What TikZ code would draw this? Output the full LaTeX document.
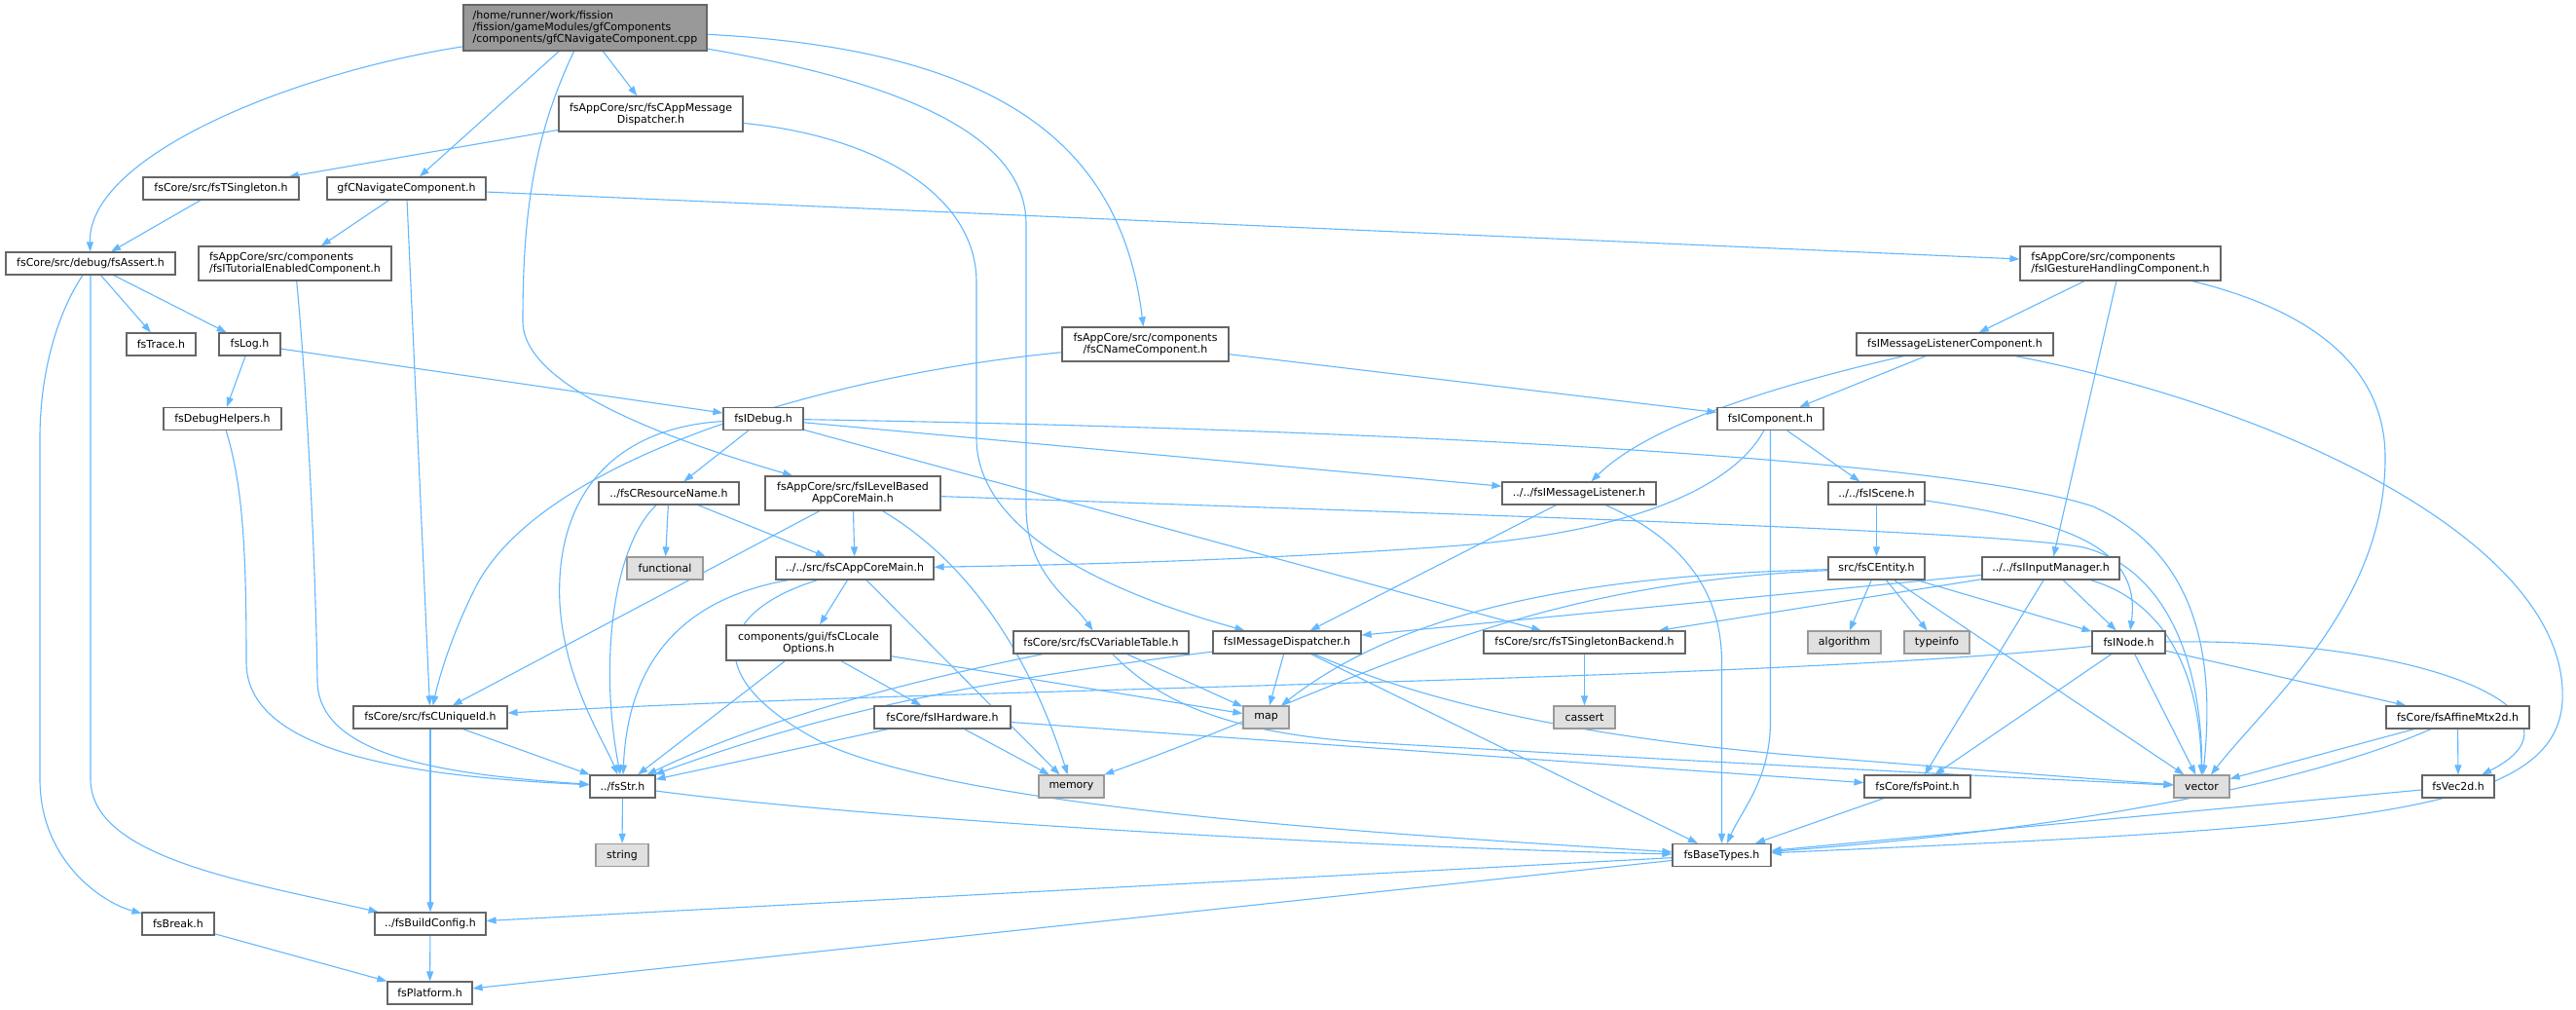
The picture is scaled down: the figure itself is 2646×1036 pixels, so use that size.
\documentclass[tikz,border=0pt]{standalone}
\usepackage{fontspec}
\usetikzlibrary{arrows.meta,backgrounds}
\newfontfamily\dvfont{DejaVu Sans}
\newcommand\nodefont{\dvfont\fontsize{11pt}{12pt}\selectfont}
\definecolor{edgeblue}{HTML}{63B8FF}
\definecolor{ndborder}{HTML}{666666}
\definecolor{extborder}{HTML}{999999}
\definecolor{extfill}{HTML}{E0E0E0}
\definecolor{rootfill}{HTML}{999999}
\tikzset{
  nd/.style={draw=ndborder, fill=white, line width=1.2pt, inner sep=0pt, font=\nodefont, minimum height=23pt, text=black},
  ext/.style={nd, draw=extborder, fill=extfill},
  root/.style={nd, fill=rootfill, draw=ndborder},
  e/.style={draw=edgeblue, line width=1.1pt, -{Triangle[length=10pt,width=7pt]}}
}
\begin{document}
\begin{tikzpicture}[x=1pt,y=-1pt]
\useasboundingbox (0,0) rectangle (2646,1036);
% nodes
\node[root, minimum width=250pt, minimum height=47pt, align=left] (main) at (601,28.5) {/home/runner/work/fission\\/fission/gameModules/gfComponents\\/components/gfCNavigateComponent.cpp};
\node[nd, minimum width=189pt, minimum height=36pt, align=center] (appdisp) at (668.5,117) {fsAppCore/src/fsCAppMessage\\Dispatcher.h};
\node[nd, minimum width=160pt] (tsing) at (227,193.5) {fsCore/src/fsTSingleton.h};
\node[nd, minimum width=163pt] (gfnav) at (417.5,193.5) {gfCNavigateComponent.h};
\node[nd, minimum width=174pt] (fsassert) at (93,270.5) {fsCore/src/debug/fsAssert.h};
\node[nd, minimum width=198pt, minimum height=35pt, align=left] (tutorial) at (303,270.5) {fsAppCore/src/components\\/fsITutorialEnabledComponent.h};
\node[nd, minimum width=206pt, minimum height=35pt, align=left] (gesture) at (2178,270.5) {fsAppCore/src/components\\/fsIGestureHandlingComponent.h};
\node[nd, minimum width=71pt] (trace) at (165.5,353.5) {fsTrace.h};
\node[nd, minimum width=63pt] (fslog) at (256.5,353.5) {fsLog.h};
\node[nd, minimum width=171pt, minimum height=35pt, align=center] (cname) at (1176.5,353.5) {fsAppCore/src/components\\/fsCNameComponent.h};
\node[nd, minimum width=202pt] (mlcomp) at (2008,353.5) {fsIMessageListenerComponent.h};
\node[nd, minimum width=121pt] (dbghelp) at (228.5,430) {fsDebugHelpers.h};
\node[nd, minimum width=82pt] (idebug) at (784,430) {fsIDebug.h};
\node[nd, minimum width=109pt] (icomp) at (1818.5,430) {fsIComponent.h};
\node[nd, minimum width=144pt] (resname) at (687,506.5) {../fsCResourceName.h};
\node[nd, minimum width=180pt, minimum height=35pt, align=center] (levelbased) at (876,506.5) {fsAppCore/src/fsILevelBased\\AppCoreMain.h};
\node[nd, minimum width=158pt] (msglistener) at (1622,506.5) {../../fsIMessageListener.h};
\node[nd, minimum width=99pt] (iscene) at (1927.5,506.5) {../../fsIScene.h};
\node[ext, minimum width=78pt] (functional) at (683,583.5) {functional};
\node[nd, minimum width=162pt] (appcoremain) at (878,583.5) {../../src/fsCAppCoreMain.h};
\node[nd, minimum width=99pt] (centity) at (1927.5,583.5) {src/fsCEntity.h};
\node[nd, minimum width=141pt] (inputmgr) at (2106.5,583.5) {../../fsIInputManager.h};
\node[nd, minimum width=169pt, minimum height=36pt, align=center] (locale) at (830.5,660) {components/gui/fsCLocale\\Options.h};
\node[nd, minimum width=180pt] (vartable) at (1131,659.5) {fsCore/src/fsCVariableTable.h};
\node[nd, minimum width=152pt] (msgdisp) at (1322,659.5) {fsIMessageDispatcher.h};
\node[nd, minimum width=207pt] (tsingback) at (1627.5,659.5) {fsCore/src/fsTSingletonBackend.h};
\node[ext, minimum width=75pt] (algorithm) at (1894.5,659.5) {algorithm};
\node[ext, minimum width=67pt] (typeinfo) at (1989.5,659.5) {typeinfo};
\node[nd, minimum width=75pt] (inode) at (2186.5,659.5) {fsINode.h};
\node[nd, minimum width=158pt] (uniqueid) at (442,736.5) {fsCore/src/fsCUniqueId.h};
\node[nd, minimum width=140pt] (hardware) at (968,736.5) {fsCore/fsIHardware.h};
\node[ext, minimum width=47pt] (map) at (1300.5,736.5) {map};
\node[ext, minimum width=63pt] (cassert) at (1627.5,736.5) {cassert};
\node[nd, minimum width=147pt] (affine) at (2524.5,736.5) {fsCore/fsAffineMtx2d.h};
\node[nd, minimum width=67pt] (fsstr) at (639.5,807.5) {../fsStr.h};
\node[ext, minimum width=67pt] (memory) at (1100.5,807.5) {memory};
\node[nd, minimum width=109pt] (fspoint) at (1969.5,807.5) {fsCore/fsPoint.h};
\node[ext, minimum width=57pt] (vector) at (2261.5,807.5) {vector};
\node[nd, minimum width=74pt] (vec2d) at (2525,807.5) {fsVec2d.h};
\node[ext, minimum width=54pt] (string) at (639,878) {string};
\node[nd, minimum width=101pt] (basetypes) at (1768.5,878) {fsBaseTypes.h};
\node[nd, minimum width=74pt] (fsbreak) at (183,948.5) {fsBreak.h};
\node[nd, minimum width=114pt] (buildconfig) at (442,948.5) {../fsBuildConfig.h};
\node[nd, minimum width=87pt] (platform) at (441.5,1019.5) {fsPlatform.h};
% edges
\begin{pgfonlayer}{background}
\fill[white] (0,0) rectangle (2646,1036);
\draw[e] (main) .. controls (300,75) and (90,160) .. (fsassert);
\draw[e] (main) -- (gfnav);
\draw[e] (main) -- (appdisp);
\draw[e] (main) .. controls (548,140) and (537,220) .. (537,330) .. controls (537,400) and (700,455) .. (levelbased);
\draw[e] (main) .. controls (1000,50) and (1150,130) .. (cname);
\draw[e] (main) .. controls (900,80) and (1054,130) .. (1054,230) -- (1054,520) .. controls (1054,590) and (1100,615) .. (vartable);
\draw[e] (appdisp) -- (tsing);
\draw[e] (appdisp) .. controls (900,140) and (1003,200) .. (1003,290) -- (1003,450) .. controls (1003,560) and (1180,620) .. (msgdisp);
\draw[e] (tsing) -- (fsassert);
\draw[e] (gfnav) -- (tutorial);
\draw[e] (gfnav) -- (uniqueid);
\draw[e] (gfnav) -- (gesture);
\draw[e] (fsassert) -- (trace);
\draw[e] (fsassert) -- (fslog);
\draw[e] (fsassert) .. controls (60,320) and (41,380) .. (41,450) -- (41,800) .. controls (41,880) and (100,925) .. (fsbreak);
\draw[e] (fsassert.south) -- (93,800) .. controls (93,880) and (250,905) .. (buildconfig);
\draw[e] (tutorial) .. controls (318,430) and (325,620) .. (326,700) .. controls (328,775) and (450,795) .. (fsstr);
\draw[e] (fslog) -- (dbghelp);
\draw[e] (fslog) -- (idebug);
\draw[e] (dbghelp) .. controls (250,500) and (253,570) .. (253,680) .. controls (253,780) and (450,798) .. (fsstr);
\draw[e] (cname) .. controls (850,385) and (560,470) .. (490,600) .. controls (462,655) and (450,700) .. (uniqueid);
\draw[e] (cname) -- (icomp);
\draw[e] (gesture) -- (mlcomp);
\draw[e] (gesture) -- (inputmgr);
\draw[e] (gesture) .. controls (2380,320) and (2450,380) .. (2450,470) .. controls (2450,620) and (2330,720) .. (vector);
\draw[e] (mlcomp) -- (icomp);
\draw[e] (mlcomp) .. controls (1850,390) and (1700,430) .. (msglistener);
\draw[e] (mlcomp) .. controls (2350,420) and (2640,560) .. (2632,720) .. controls (2625,840) and (2400,850) .. (basetypes);
\draw[e] (idebug) -- (resname);
\draw[e] (idebug) .. controls (620,440) and (570,520) .. (575,620) .. controls (580,700) and (620,760) .. (fsstr);
\draw[e] (idebug) -- (msglistener);
\draw[e] (idebug) -- (tsingback);
\draw[e] (idebug) .. controls (1400,440) and (2000,470) .. (2150,520) .. controls (2260,570) and (2275,680) .. (vector);
\draw[e] (icomp) -- (iscene);
\draw[e] (icomp) .. controls (1780,500) and (1680,545) .. (1500,560) .. controls (1300,575) and (1100,580) .. (appcoremain);
\draw[e] (icomp.south) -- (1818.5,740) .. controls (1818.5,800) and (1790,830) .. (basetypes);
\draw[e] (resname) -- (functional);
\draw[e] (resname) -- (appcoremain);
\draw[e] (resname) .. controls (630,560) and (615,680) .. (fsstr);
\draw[e] (levelbased) -- (appcoremain);
\draw[e] (levelbased) -- (uniqueid);
\draw[e] (levelbased) .. controls (1000,580) and (1060,680) .. (memory);
\draw[e] (levelbased) .. controls (1500,528) and (2050,545) .. (2140,562) .. controls (2230,585) and (2262,690) .. (vector);
\draw[e] (msglistener) -- (msgdisp);
\draw[e] (msglistener) .. controls (1720,550) and (1768.5,600) .. (1768.5,680) -- (basetypes);
\draw[e] (iscene) -- (centity);
\draw[e] (iscene) .. controls (2120,535) and (2200,560) .. (inode);
\draw[e] (appcoremain) -- (locale);
\draw[e] (appcoremain) .. controls (700,615) and (645,680) .. (fsstr);
\draw[e] (appcoremain) .. controls (730,630) and (720,700) .. (850,765) .. controls (1000,830) and (1400,855) .. (basetypes);
\draw[e] (appcoremain) -- (memory);
\draw[e] (locale) -- (fsstr);
\draw[e] (locale) -- (hardware);
\draw[e] (locale) -- (map);
\draw[e] (vartable) .. controls (980,690) and (800,730) .. (fsstr);
\draw[e] (vartable) -- (map);
\draw[e] (vartable) .. controls (1190,720) and (1260,752) .. (1400,762) .. controls (1800,785) and (2100,800) .. (vector);
\draw[e] (msgdisp) -- (map);
\draw[e] (msgdisp) -- (basetypes);
\draw[e] (msgdisp) .. controls (1450,715) and (1600,755) .. (1850,776) .. controls (2000,788) and (2150,800) .. (vector);
\draw[e] (msgdisp) .. controls (1000,700) and (850,730) .. (fsstr);
\draw[e] (tsingback) -- (cassert);
\draw[e] (centity) -- (algorithm);
\draw[e] (centity) -- (typeinfo);
\draw[e] (centity) -- (inode);
\draw[e] (centity) -- (vector);
\draw[e] (centity) .. controls (1650,590) and (1450,620) .. (map);
\draw[e] (centity) .. controls (1550,600) and (1400,700) .. (memory);
\draw[e] (inputmgr) -- (msgdisp);
\draw[e] (inputmgr) -- (tsingback);
\draw[e] (inputmgr) -- (fspoint);
\draw[e] (inputmgr) -- (inode);
\draw[e] (inputmgr) .. controls (2230,620) and (2260,700) .. (vector);
\draw[e] (inode) .. controls (1800,700) and (1000,705) .. (uniqueid);
\draw[e] (inode) -- (affine);
\draw[e] (inode) .. controls (2500,655) and (2670,735) .. (vec2d);
\draw[e] (inode) -- (vector);
\draw[e] (inode) -- (fspoint);
\draw[e] (uniqueid) -- (fsstr);
\draw[e] (uniqueid) -- (buildconfig);
\draw[e] (hardware) -- (fsstr);
\draw[e] (hardware) -- (memory);
\draw[e] (hardware) -- (fspoint);
\draw[e] (affine) -- (vector);
\draw[e] (affine) -- (vec2d);
\draw[e] (affine) .. controls (2380,800) and (2150,850) .. (basetypes);
\draw[e] (vec2d) -- (basetypes);
\draw[e] (fspoint) -- (basetypes);
\draw[e] (fsstr) -- (string);
\draw[e] (fsstr) .. controls (900,842) and (1400,870) .. (basetypes);
\draw[e] (basetypes) -- (buildconfig);
\draw[e] (basetypes) -- (platform);
\draw[e] (buildconfig) -- (platform);
\draw[e] (fsbreak) -- (platform);
\end{pgfonlayer}
\end{tikzpicture}
\end{document}
